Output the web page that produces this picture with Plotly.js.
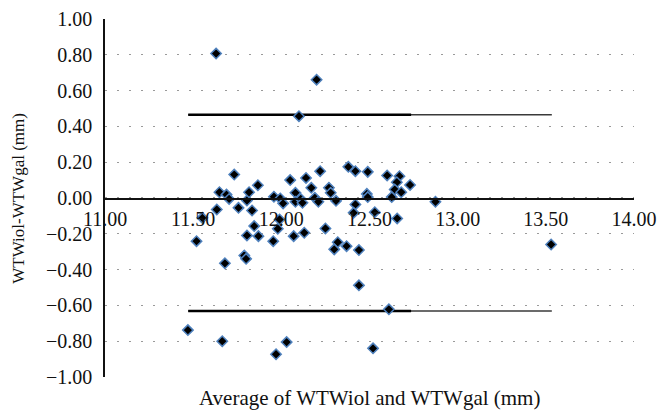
<!DOCTYPE html>
<html>
<head>
<meta charset="utf-8">
<script src="https://cdn.plot.ly/plotly-3.0.1.min.js"></script>
<style>html,body{margin:0;padding:0;background:#fff;}#chart{width:665px;height:411px;}</style>
</head>
<body>
<div id="chart"></div>
<script>
// Average of WTWiol and WTWgal (mm)
const avgX = [11.63, 12.20, 12.10, 11.733, 11.649, 11.689, 11.704, 11.757, 11.805, 11.817,
  11.834, 11.867, 11.634, 11.552, 11.519, 11.846, 11.805, 11.87, 11.79, 11.80,
  11.68, 11.958, 11.994, 12.01, 12.05, 11.99, 11.98, 11.954, 12.08, 12.08,
  12.11, 12.12, 12.14, 12.17, 12.22, 12.19, 12.21, 12.07, 12.13, 12.25,
  12.27, 12.28, 12.31, 12.32, 12.30, 12.37, 12.38, 12.42, 12.42, 12.41,
  12.44, 12.44, 12.49, 12.485, 12.49, 12.53, 12.52, 12.60, 12.67, 12.655,
  12.73, 12.643, 12.68, 12.626, 12.657, 12.874, 12.61, 13.53, 11.47, 11.665,
  11.97, 12.03];
// Difference WTWiol - WTWgal (mm)
const diffY = [0.807, 0.661, 0.457, 0.131, 0.032, 0.019, -0.005, -0.055, -0.014, 0.032,
  -0.07, 0.071, -0.064, -0.111, -0.241, -0.157, -0.209, -0.213, -0.321, -0.34,
  -0.365, 0.007, -0.003, -0.03, 0.10, -0.12, -0.172, -0.241, 0.029, -0.021,
  -0.005, -0.027, 0.112, 0.057, 0.15, 0.001, -0.021, -0.213, -0.194, -0.17,
  0.057, 0.029, -0.016, -0.247, -0.287, -0.269, 0.174, 0.15, -0.036, -0.083,
  -0.291, -0.488, 0.146, 0.023, 0.005, -0.079, -0.84, 0.126, 0.122, 0.088,
  0.073, 0.047, 0.032, 0.005, -0.114, -0.021, -0.622, -0.26, -0.738, -0.80,
  -0.873, -0.805];
// Limits of agreement
const upperLimit = 0.465;
const lowerLimit = -0.631;
const limitSpanFull = [11.472, 13.534];
const limitSpanShort = [11.472, 12.736];
const xTicks = [11.0, 11.5, 12.0, 12.5, 13.0, 13.5, 14.0];
const yTicks = [-1.0, -0.8, -0.6, -0.4, -0.2, 0.0, 0.2, 0.4, 0.6, 0.8, 1.0];

const serif = 'Liberation Serif, Times New Roman, serif';

const traces = [];
[upperLimit, lowerLimit].forEach(v => {
  traces.push({x: limitSpanFull, y: [v, v], mode: 'lines', line: {color: '#3a3a3a', width: 1.5}, hoverinfo: 'skip', showlegend: false});
  traces.push({x: limitSpanShort, y: [v, v], mode: 'lines', line: {color: '#000', width: 2.4}, hoverinfo: 'skip', showlegend: false});
});
traces.push({
  x: avgX, y: diffY, mode: 'markers', type: 'scatter', showlegend: false,
  marker: {symbol: 'diamond', size: 8, color: '#000', line: {color: '#4f81bd', width: 1.5}}
});

const layout = {
  width: 665, height: 411,
  margin: {l: 105, r: 31, t: 19, b: 34},
  paper_bgcolor: '#fff', plot_bgcolor: '#fff',
  font: {family: serif, size: 19, color: '#111'},
  showlegend: false,
  xaxis: {
    range: [11, 14], tickvals: xTicks, tickformat: '.2f',
    anchor: 'free', position: 0.5,
    showline: true, linecolor: '#111', linewidth: 1.8,
    showgrid: false, zeroline: false,
    ticks: 'outside', ticklen: 2, tickcolor: 'rgba(0,0,0,0)',
    tickfont: {family: serif, size: 20, color: '#111'}
  },
  yaxis: {
    range: [-1, 1], tickvals: yTicks, tickformat: '.2f',
    showline: true, linecolor: '#111', linewidth: 1.8,
    showgrid: true, gridcolor: '#9a9a9a', gridwidth: 1.3, griddash: '2px,10px',
    zeroline: false,
    ticks: 'outside', ticklen: 7, tickcolor: 'rgba(0,0,0,0)',
    tickfont: {family: serif, size: 20, color: '#111'}
  },
  annotations: [
    {text: 'Average of WTWiol and WTWgal (mm)', xref: 'paper', yref: 'paper', x: 0.5, y: -0.058,
     xanchor: 'center', yanchor: 'middle', showarrow: false, font: {family: serif, size: 21, color: '#111'}},
    {text: 'WTWiol-WTWgal (mm)', xref: 'paper', yref: 'paper', x: -0.165, y: 0.5, textangle: -90,
     xanchor: 'center', yanchor: 'middle', showarrow: false, font: {family: serif, size: 17, color: '#111'}}
  ]
};

Plotly.newPlot('chart', traces, layout, {staticPlot: true, displayModeBar: false});
</script>
</body>
</html>
